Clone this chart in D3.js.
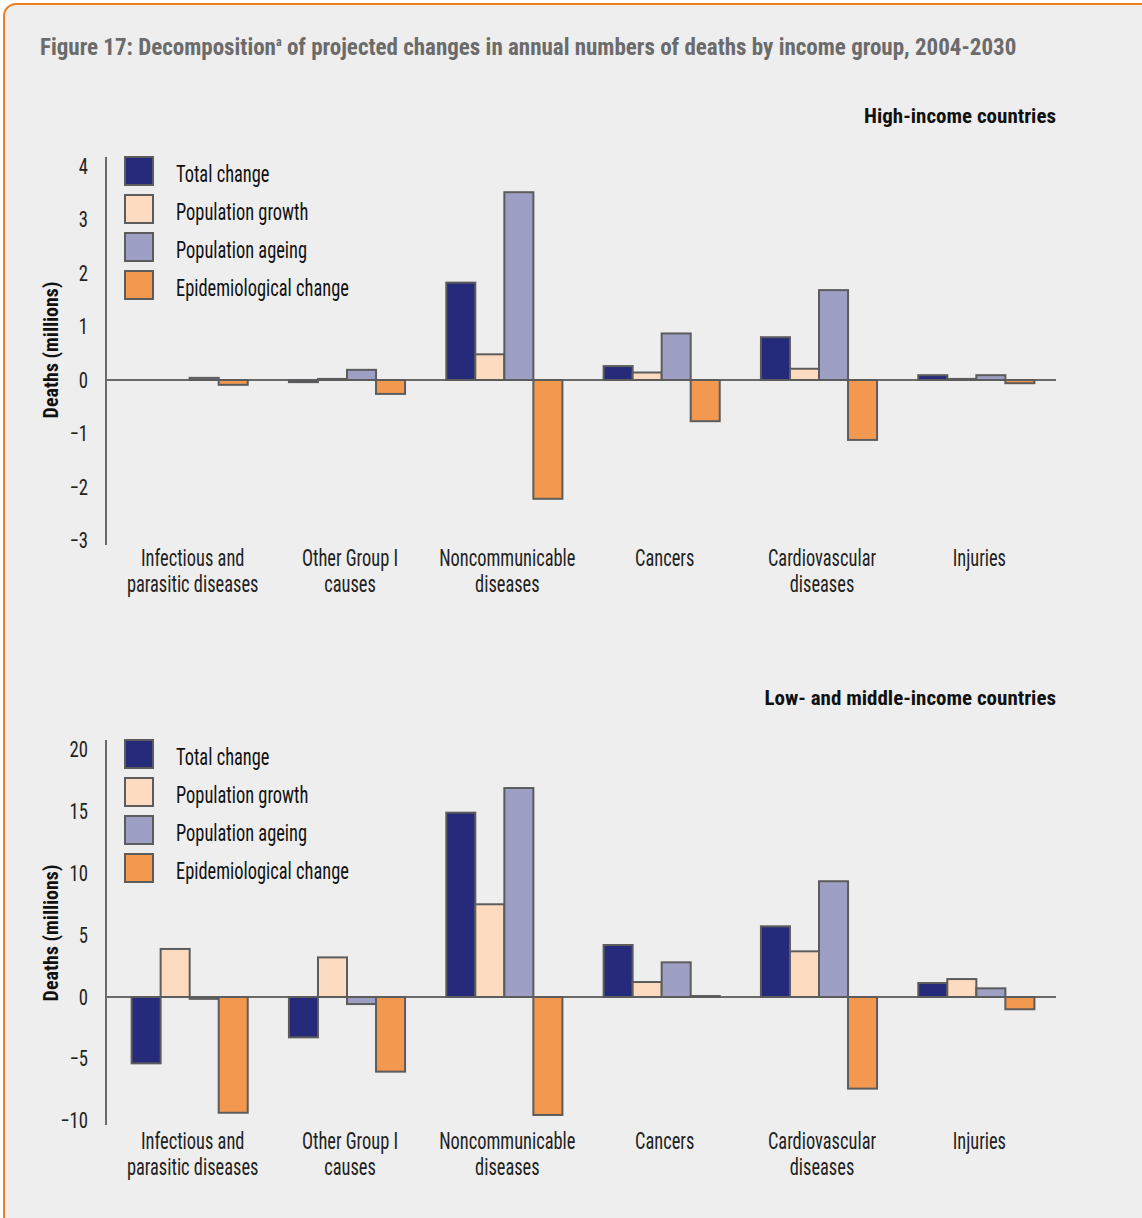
<!DOCTYPE html>
<html><head><meta charset="utf-8">
<script src="https://cdn.jsdelivr.net/npm/d3@7"></script>
<style>
body{margin:0;background:#fff;}
svg text{font-family:"Liberation Sans Narrow","Roboto Condensed",Roboto,"Open Sans",sans-serif;}
</style></head>
<body><svg id="c" width="1142" height="1218"></svg>
<script>
const categories = [["Infectious and","parasitic diseases"],["Other Group I","causes"],["Noncommunicable","diseases"],["Cancers"],["Cardiovascular","diseases"],["Injuries"]];
const seriesNames = ["Total change","Population growth","Population ageing","Epidemiological change"];
const seriesColors = ["#252a7a","#fddbc0","#9da0c4","#f3994f"];
// High-income countries (millions)
const highTotal   = [0.00, -0.04, 1.82, 0.26, 0.80, 0.09];
const highGrowth  = [0.00,  0.02, 0.48, 0.14, 0.21, 0.02];
const highAgeing  = [0.04,  0.19, 3.51, 0.87, 1.68, 0.09];
const highEpi     = [-0.09,-0.26,-2.22,-0.77,-1.12,-0.06];
const highTicks   = [4,3,2,1,0,-1,-2,-3];
// Low- and middle-income countries (millions)
const lowTotal    = [-5.36,-3.26,14.89, 4.20, 5.71, 1.13];
const lowGrowth   = [ 3.88, 3.20, 7.49, 1.21, 3.69, 1.45];
const lowAgeing   = [-0.15,-0.57,16.88, 2.80, 9.35, 0.70];
const lowEpi      = [-9.35,-6.03,-9.53, 0.08,-7.40,-0.99];
const lowTicks    = [20,15,10,5,0,-5,-10];

// squeeze text horizontally to imitate a condensed face
function condense(sel, f){
  sel.each(function(){
    const L = this.getComputedTextLength();
    d3.select(this).attr("textLength", L*f).attr("lengthAdjust","spacingAndGlyphs");
  });
}

const svg = d3.select("#c");
svg.append("rect").attr("x",4).attr("y",4).attr("width",1160).attr("height",1240).attr("rx",12)
  .attr("fill","#eeeeee").attr("stroke","#f07d1f").attr("stroke-width",2);
const title = svg.append("text").attr("x",40).attr("y",55).attr("fill","#6b6b6b")
  .attr("font-weight","bold").attr("font-size",23);
title.append("tspan").text("Figure 17: Decomposition");
title.append("tspan").attr("font-size",12).attr("dy",-9).text("a");
title.append("tspan").attr("dy",9).text(" of projected changes in annual numbers of deaths by income group, 2004-2030");

function panel(opts){
  const g = svg.append("g");
  const x0 = d3.scaleBand().domain(d3.range(categories.length)).range([111,1055]).paddingInner(0.262).paddingOuter(0.131);
  const x1 = d3.scaleBand().domain(d3.range(4)).range([0,x0.bandwidth()]);
  const y = d3.scaleLinear().domain(opts.domain).range(opts.range);
  g.append("text").attr("x",1056).attr("y",opts.subY).attr("text-anchor","end")
    .attr("font-weight","bold").attr("font-size",21).attr("fill","#111").text(opts.subtitle);
  // y axis labels
  const ax = g.append("g").attr("transform","translate(88,0)")
    .call(d3.axisLeft(y).tickValues(opts.ticks).tickSize(0).tickPadding(0).tickFormat(d3.format("d")));
  ax.select(".domain").remove();
  ax.selectAll("text").attr("font-size",22).attr("fill","#222")
    .attr("font-family","'Liberation Sans Narrow',Roboto,sans-serif");
  condense(ax.selectAll("text"),0.85);
  g.append("line").attr("x1",106).attr("x2",106).attr("y1",opts.axisTop).attr("y2",opts.axisBottom)
    .attr("stroke","#6a6a6a").attr("stroke-width",2);
  g.append("text").attr("transform",`translate(58,${opts.labelY}) rotate(-90)`).attr("text-anchor","middle")
    .attr("font-weight","bold").attr("font-size",20).attr("fill","#111").text("Deaths (millions)");
  // zero line
  g.append("line").attr("x1",106).attr("x2",1056).attr("y1",y(0)).attr("y2",y(0))
    .attr("stroke","#6a6a6a").attr("stroke-width",2);
  // bars
  opts.series.forEach((vals,si)=>{
    g.selectAll(null).data(vals).join("rect")
      .attr("x",(d,i)=>x0(i)+x1(si)).attr("width",x1.bandwidth())
      .attr("y",d=>y(Math.max(0,d))).attr("height",d=>Math.abs(y(d)-y(0)))
      .attr("fill",seriesColors[si]).attr("stroke","#5c5c5c").attr("stroke-width",2);
  });
  // category labels
  categories.forEach((lines,i)=>{
    lines.forEach((l,k)=>{
      const t = g.append("text").attr("x",x0(i)+x0.bandwidth()/2+3).attr("y",opts.catY+k*26)
        .attr("text-anchor","middle").attr("font-size",23).attr("fill","#222").text(l);
      condense(t,0.8);
    });
  });
  // legend
  seriesNames.forEach((n,si)=>{
    const yy = opts.legY + si*38;
    g.append("rect").attr("x",125).attr("y",yy-14).attr("width",28).attr("height",28)
      .attr("fill",seriesColors[si]).attr("stroke","#5c5c5c").attr("stroke-width",2);
    const t = g.append("text").attr("x",176).attr("y",yy+11).attr("font-size",23).attr("fill","#111").text(n);
    condense(t,0.8);
  });
}
panel({domain:[-3,4],range:[540.5,166],ticks:highTicks,series:[highTotal,highGrowth,highAgeing,highEpi],
  subtitle:"High-income countries",subY:123,axisTop:157,axisBottom:545,labelY:350,catY:566,legY:171});
panel({domain:[-10,20],range:[1120.8,749.4],ticks:lowTicks,series:[lowTotal,lowGrowth,lowAgeing,lowEpi],
  subtitle:"Low- and middle-income countries",subY:705,axisTop:740,axisBottom:1125,labelY:933,catY:1149,legY:754});
</script></body></html>
